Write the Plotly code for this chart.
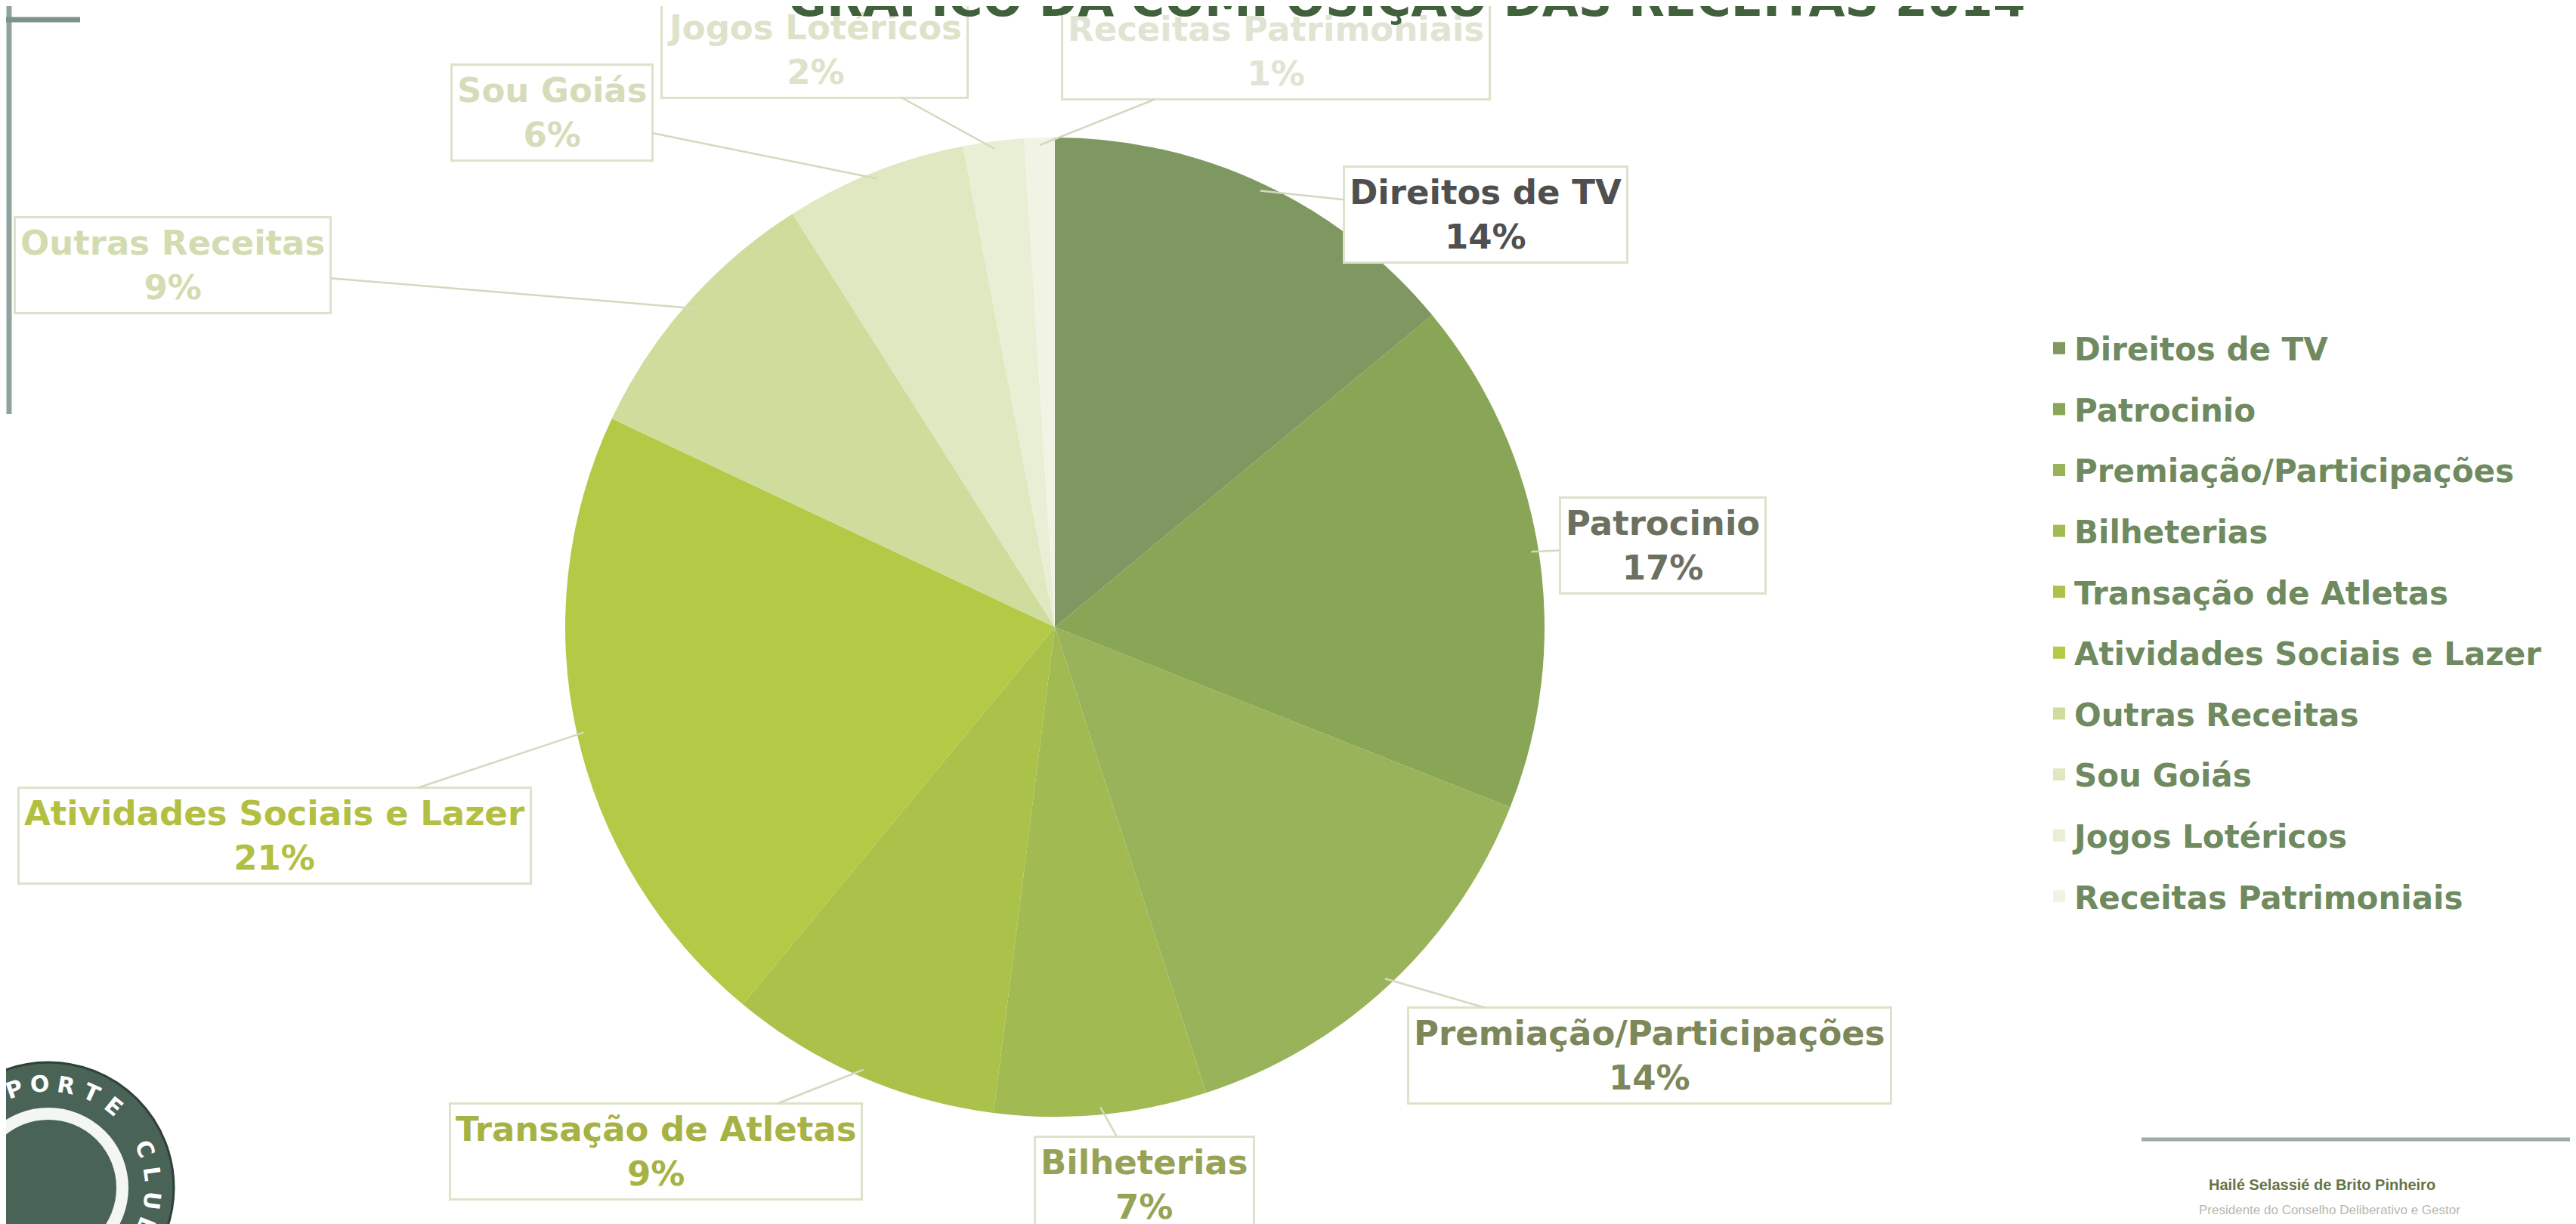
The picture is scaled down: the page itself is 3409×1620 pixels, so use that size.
import math
import plotly.graph_objects as go

# ---------------- data ----------------
categories = [
    "Direitos de TV",
    "Patrocinio",
    "Premiação/Participações",
    "Bilheterias",
    "Transação de Atletas",
    "Atividades Sociais e Lazer",
    "Outras Receitas",
    "Sou Goiás",
    "Jogos Lotéricos",
    "Receitas Patrimoniais",
]
shares = [14, 17, 14, 7, 9, 21, 9, 6, 2, 1]
title_text = "GRÁFICO DA COMPOSIÇÃO DAS RECEITAS 2014"
signature_name = "Hailé Selassié de Brito Pinheiro"
signature_role = "Presidente do Conselho Deliberativo e Gestor"
logo_text = "ESPORTE CLUBE"

# ---------------- styles ----------------
slice_colors = ["#7f9760", "#89a656", "#98b35a", "#a1bb52", "#aac24a",
                "#b4ca46", "#cfdd9c", "#dfe8c1", "#e9efd5", "#f1f4e4"]
label_text_colors = ["#4f4f4f", "#6b7060", "#7c875a", "#98a256", "#a6b244",
                     "#b2bf40", "#d3dcb0", "#d6dcba", "#dde2c8", "#e0e4d2"]

W, H = 3409, 1620
CX, CY, R = 1388, 822, 648          # pie centre / radius in pixels
# label box centres (pixels, top-left origin)
label_box_centers = [
    (1958, 276), (2192, 714), (2175, 1389), (1506, 1560), (860, 1516),
    (355, 1098), (220, 343), (722, 141), (1070, 58), (1680, 60),
]
LOGO_CX, LOGO_CY, LOGO_R = 56, 1564, 166


def px(x):
    return x / W


def py(y):
    return 1 - y / H


fig = go.Figure()

fig.add_trace(go.Pie(
    labels=categories,
    values=shares,
    sort=False,
    direction="clockwise",
    rotation=0,
    marker=dict(colors=slice_colors, line=dict(width=0)),
    textinfo="none",
    hoverinfo="label+percent",
    showlegend=False,
    domain=dict(x=[px(CX - R), px(CX + R)], y=[py(CY + R), py(CY - R)]),
))

# legend entries via library legend (one group each for spacing)
for cat, col in zip(categories, slice_colors):
    fig.add_trace(go.Scatter(
        x=[None], y=[None], mode="markers", name=cat, legendgroup=cat,
        marker=dict(symbol="square", size=16, color=col),
        hoverinfo="skip",
    ))

annotations = []

total = sum(shares)
cum = 0
for i, (cat, v) in enumerate(zip(categories, shares)):
    mid = (cum + v / 2) / total * 2 * math.pi
    cum += v
    ax_px = CX + R * 0.985 * math.sin(mid)
    ay_px = CY - R * 0.985 * math.cos(mid)
    bx, by = label_box_centers[i]
    annotations.append(dict(
        x=px(ax_px), y=py(ay_px), xref="paper", yref="paper",
        ax=bx - ax_px, ay=by - ay_px, axref="pixel", ayref="pixel",
        showarrow=True, arrowhead=0, arrowwidth=2.5, arrowcolor="#d3d9be",
        standoff=0,
        text=f"{cat}<br>{v}%", align="center",
        font=dict(family="DejaVu Sans", size=45, color=label_text_colors[i],
                  weight="bold"),
        bgcolor="white", bordercolor="#dde2cb", borderwidth=3, borderpad=6,
    ))

# title (partially cut at the top edge as in the slide photo, drawn on top)
annotations.append(dict(
    x=px(2674), y=py(30), xref="paper", yref="paper",
    xanchor="right", yanchor="bottom", showarrow=False,
    text=title_text,
    font=dict(family="DejaVu Sans", size=62, color="#41603c", weight="bold"),
))

# signature
annotations.append(dict(
    x=px(2913), y=py(1560), xref="paper", yref="paper", xanchor="left",
    yanchor="middle", showarrow=False, text=signature_name,
    font=dict(family="Liberation Sans", size=20, color="#66744a",
              weight="bold"),
))
annotations.append(dict(
    x=px(2900), y=py(1593), xref="paper", yref="paper", xanchor="left",
    yanchor="middle", showarrow=False, text=signature_role,
    font=dict(family="Liberation Sans", size=17, color="#b5b9ae"),
))

# logo lettering along the ring
for k, ch in enumerate(logo_text):
    if ch == " ":
        continue
    ang = -48 + 14.5 * k
    lx = LOGO_CX + 138 * math.sin(math.radians(ang))
    ly = LOGO_CY - 138 * math.cos(math.radians(ang))
    annotations.append(dict(
        x=px(lx), y=py(ly), xref="paper", yref="paper", showarrow=False,
        text=ch, textangle=ang, xanchor="center", yanchor="middle",
        font=dict(family="DejaVu Sans", size=30, color="white",
                  weight="bold"),
    ))

shapes = [
    # slide decorations
    dict(type="line", xref="paper", yref="paper", x0=px(4), x1=px(4),
         y0=py(0), y1=py(540), line=dict(color="#8ea39e", width=7)),
    dict(type="line", xref="paper", yref="paper", x0=px(0), x1=px(98),
         y0=py(18), y1=py(18), line=dict(color="#7b928d", width=7)),
    dict(type="line", xref="paper", yref="paper", x0=px(2826), x1=px(3409),
         y0=py(1500), y1=py(1500), line=dict(color="#9eabaa", width=5)),
    # club logo (bottom-left, partly outside)
    dict(type="circle", xref="paper", yref="paper",
         x0=px(LOGO_CX - LOGO_R), x1=px(LOGO_CX + LOGO_R),
         y0=py(LOGO_CY + LOGO_R), y1=py(LOGO_CY - LOGO_R),
         fillcolor="#4a6357", line=dict(color="#2f4038", width=3)),
    dict(type="circle", xref="paper", yref="paper",
         x0=px(LOGO_CX - 98), x1=px(LOGO_CX + 98),
         y0=py(LOGO_CY + 98), y1=py(LOGO_CY - 98),
         fillcolor="rgba(0,0,0,0)", line=dict(color="#f4f6f4", width=16)),
]

fig.update_layout(
    width=W, height=H,
    margin=dict(l=0, r=0, t=0, b=0),
    paper_bgcolor="white", plot_bgcolor="white",
    xaxis=dict(visible=False), yaxis=dict(visible=False),
    showlegend=True,
    legend=dict(
        x=px(2697), y=py(419), xanchor="left", yanchor="top",
        font=dict(family="DejaVu Sans", size=42, color="#6f8a5e",
                  weight="bold"),
        tracegroupgap=23, bgcolor="rgba(0,0,0,0)",
    ),
    annotations=annotations,
    shapes=shapes,
)

fig.write_html("out.html")
